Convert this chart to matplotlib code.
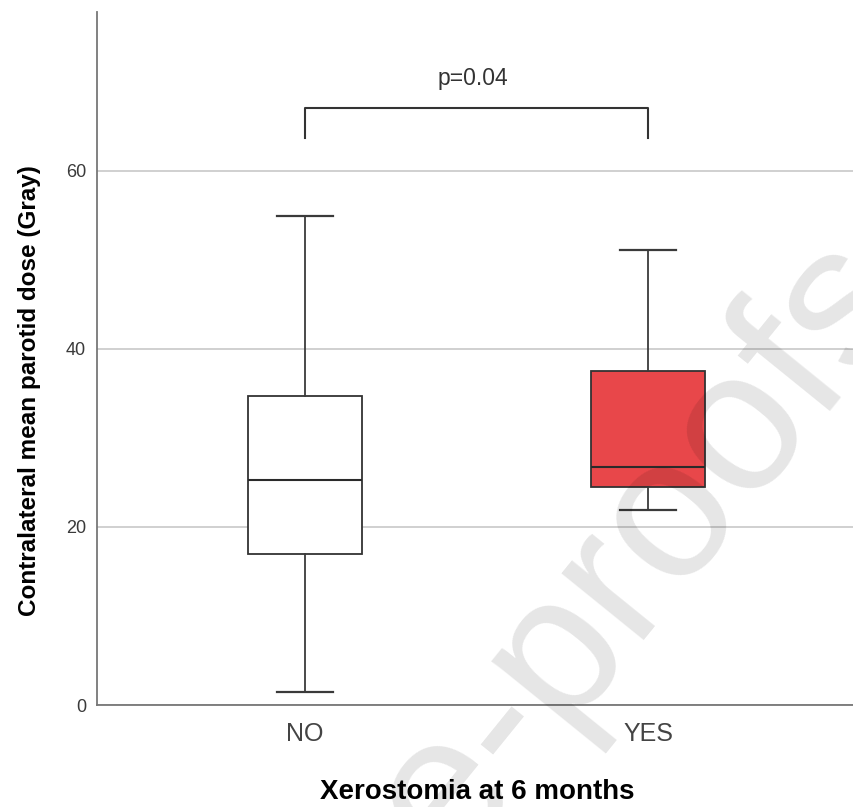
import matplotlib.pyplot as plt

# box statistics (Gray)
groups = ["NO", "YES"]
whisker_low = [1.5, 21.9]
q1 = [16.9, 24.5]
median = [25.3, 26.7]
q3 = [34.7, 37.5]
whisker_high = [54.9, 51.1]
fills = ["white", "#E8474A"]

p_text = "p=0.04"
bracket_y = 67.0
bracket_leg = 63.7

plt.rcParams['font.family'] = ['Liberation Sans', 'DejaVu Sans']

fig = plt.figure(figsize=(8.54, 8.07), dpi=100)
ax = fig.add_axes([97/854, 102/807, 757/854, 693/807])

stats = []
for i, g in enumerate(groups):
    stats.append({'label': g, 'whislo': whisker_low[i], 'q1': q1[i], 'med': median[i],
                  'q3': q3[i], 'whishi': whisker_high[i], 'fliers': []})

pos = [1, 2]
bp = ax.bxp(stats, positions=pos, widths=0.332, capwidths=0.163, patch_artist=True,
            showfliers=False,
            boxprops=dict(edgecolor='#333333', linewidth=1.3),
            medianprops=dict(color='#2a2a2a', linewidth=1.5),
            whiskerprops=dict(color='#3a3a3a', linewidth=1.3),
            capprops=dict(color='#3a3a3a', linewidth=1.6))
for patch, c in zip(bp['boxes'], fills):
    patch.set_facecolor(c)
for el in bp['boxes'] + bp['medians'] + bp['whiskers'] + bp['caps']:
    el.set_zorder(3)

# significance bracket
ax.plot([pos[0], pos[0], pos[1], pos[1]], [bracket_leg, bracket_y, bracket_y, bracket_leg],
        color='#333333', linewidth=1.5, zorder=3)
ax.text((pos[0] + pos[1]) / 2 - 0.01, 69.6, p_text, ha='center', va='baseline',
        fontsize=16.5, color='#333333')

ax.set_xlim(0.393, 2.6)
ax.set_ylim(0, 77.8)
ax.set_yticks([0, 20, 40, 60])
ax.yaxis.grid(True, color='#c8c8c8', linewidth=1.2)
ax.set_axisbelow(True)
ax.tick_params(axis='both', length=0)
ax.tick_params(axis='y', labelsize=13, pad=8, labelcolor='#3a3a3a')
ax.tick_params(axis='x', labelsize=18, pad=12, labelcolor='#444444')

for s in ['top', 'right']:
    ax.spines[s].set_visible(False)
for s in ['left', 'bottom']:
    ax.spines[s].set_color('#777777')
    ax.spines[s].set_linewidth(1.3)

fig.text(30/854, 1 - 391/807, "Contralateral mean parotid dose (Gray)", rotation=90,
         ha='center', va='center', fontsize=17.5, fontweight='bold')
fig.text(477/854, 8/807, "Xerostomia at 6 months", ha='center', va='baseline',
         fontsize=20, fontweight='bold')

# watermark of the proof pdf
fig.text(0.752, 0.318, "e-proofs", fontsize=145, rotation=51, color='black', alpha=0.1,
         ha='center', va='center', zorder=10)

fig.savefig("out.png", dpi=100)
